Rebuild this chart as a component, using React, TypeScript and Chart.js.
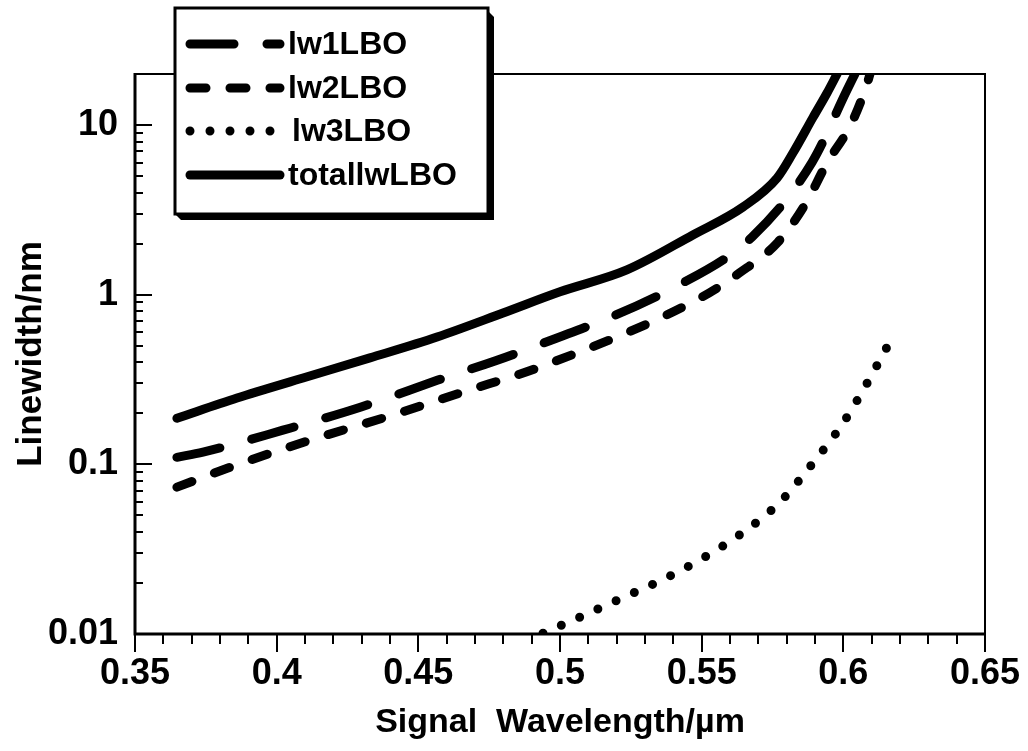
import { useEffect, useRef } from 'react';
import { Chart, registerables } from 'chart.js';

Chart.register(...registerables);

const FONT = '"Liberation Sans", Arial, Helvetica, sans-serif';

// Axis ticks
const wavelengthTicks = [0.35, 0.4, 0.45, 0.5, 0.55, 0.6, 0.65];
const linewidthTicks = [0.01, 0.1, 1, 10];

// lw1LBO
const lw1X = [0.3648, 0.374, 0.4022, 0.4298, 0.4569, 0.4848, 0.5406, 0.5678, 0.589, 0.6013, 0.6041];
const lw1Y = [0.11, 0.118, 0.159, 0.218, 0.314, 0.453, 1.11, 2.19, 6.05, 16.1, 20];

// lw2LBO
const lw2X = [0.3648, 0.3828, 0.4107, 0.4386, 0.4658, 0.4937, 0.5494, 0.5632, 0.5769, 0.5868, 0.5942, 0.6027, 0.6084, 0.6094];
const lw2Y = [0.0734, 0.0951, 0.137, 0.19, 0.267, 0.379, 0.955, 1.34, 2.04, 3.47, 5.97, 10.1, 17.5, 20];

// lw3LBO
const lw3X = [0.494, 0.5085, 0.5219, 0.5364, 0.5498, 0.5643, 0.5776, 0.5893, 0.5999, 0.608, 0.6154];
const lw3Y = [0.0101, 0.0129, 0.0163, 0.021, 0.0276, 0.0394, 0.0598, 0.102, 0.175, 0.293, 0.491];

// totallwLBO
const totalX = [0.3648, 0.386, 0.4093, 0.4329, 0.4566, 0.4799, 0.5, 0.5236, 0.5469, 0.5646, 0.5766, 0.5822, 0.5893, 0.5942, 0.5978];
const totalY = [0.187, 0.246, 0.323, 0.424, 0.563, 0.78, 1.04, 1.4, 2.25, 3.29, 4.87, 6.84, 11.1, 15.4, 20];

const pts = (xs: number[], ys: number[]) => xs.map((x, i) => ({ x, y: ys[i] }));

const frameAndTicks = {
  id: 'frameAndTicks',
  afterDatasetsDraw(chart: any) {
    const { ctx, chartArea: a, scales } = chart;
    const xs = scales.x;
    const ys = scales.y;
    ctx.save();
    ctx.strokeStyle = '#000';
    ctx.lineCap = 'butt';

    // top and right border
    ctx.lineWidth = 2;
    ctx.beginPath();
    ctx.moveTo(a.left, a.top);
    ctx.lineTo(a.right, a.top);
    ctx.lineTo(a.right, a.bottom);
    ctx.stroke();

    // left and bottom axes
    ctx.lineWidth = 3;
    ctx.beginPath();
    ctx.moveTo(a.left, a.top - 1);
    ctx.lineTo(a.left, a.bottom);
    ctx.lineTo(a.right + 1, a.bottom);
    ctx.stroke();

    // x ticks, pointing down
    ctx.lineWidth = 2;
    ctx.beginPath();
    for (let i = 0; i <= 30; i++) {
      const v = 0.35 + i * 0.01;
      const px = Math.round(xs.getPixelForValue(v));
      const len = i % 5 === 0 ? 18 : 10;
      ctx.moveTo(px, a.bottom);
      ctx.lineTo(px, a.bottom + len);
    }
    ctx.stroke();

    // y ticks, pointing into the plot
    ctx.beginPath();
    for (const d of linewidthTicks) {
      for (let m = 1; m <= 9; m++) {
        const v = d * m;
        if (v > ys.max + 1e-9 || v <= ys.min + 1e-12) continue;
        const py = Math.round(ys.getPixelForValue(v));
        const len = m === 1 ? 17 : 8;
        ctx.moveTo(a.left, py);
        ctx.lineTo(a.left + len, py);
      }
    }
    ctx.stroke();
    ctx.restore();
  },
};

const legendBox = {
  id: 'legendBox',
  afterDraw(chart: any) {
    const { ctx } = chart;
    const L = 175, T = 8, R = 488, B = 214;
    ctx.save();
    // drop shadow
    ctx.fillStyle = '#000';
    ctx.beginPath();
    ctx.moveTo(R, T + 3);
    ctx.lineTo(R + 6, T + 9);
    ctx.lineTo(R + 6, B + 6);
    ctx.lineTo(L + 6, B + 6);
    ctx.lineTo(L, B);
    ctx.closePath();
    ctx.fill();
    // box
    ctx.fillStyle = '#fff';
    ctx.fillRect(L, T, R - L, B - T);
    ctx.strokeStyle = '#000';
    ctx.lineWidth = 3;
    ctx.strokeRect(L, T, R - L, B - T);

    const rows = [44, 88, 131, 175];
    chart.data.datasets.forEach((ds: any, i: number) => {
      const y = rows[i];
      ctx.strokeStyle = '#000';
      ctx.lineWidth = ds.borderWidth;
      ctx.lineCap = 'round';
      ctx.setLineDash(ds.borderDash || []);
      ctx.beginPath();
      ctx.moveTo(190, y);
      ctx.lineTo(280, y);
      ctx.stroke();
      ctx.setLineDash([]);
      ctx.fillStyle = '#000';
      ctx.font = `bold 32px ${FONT}`;
      ctx.textBaseline = 'middle';
      ctx.textAlign = 'left';
      ctx.fillText(ds.label, i === 2 ? 292 : 288, y + 1);
    });
    ctx.restore();
  },
};

export default function App() {
  const ref = useRef<HTMLCanvasElement>(null);

  useEffect(() => {
    if (!ref.current) return;
    const common = {
      borderColor: '#000',
      borderWidth: 9,
      borderCapStyle: 'round' as const,
      borderJoinStyle: 'round' as const,
      pointRadius: 0,
      cubicInterpolationMode: 'monotone' as const,
      fill: false,
    };
    const chart = new Chart(ref.current, {
      type: 'line',
      data: {
        datasets: [
          { ...common, label: 'lw1LBO', data: pts(lw1X, lw1Y), borderDash: [44, 33] },
          { ...common, label: 'lw2LBO', data: pts(lw2X, lw2Y), borderDash: [16, 24] },
          { ...common, label: 'lw3LBO', data: pts(lw3X, lw3Y), borderDash: [0, 20] },
          { ...common, label: 'totallwLBO', data: pts(totalX, totalY), borderDash: [] },
        ],
      },
      options: {
        responsive: false,
        animation: false,
        events: [],
        layout: { padding: { top: 74, right: 43, left: 0, bottom: 0 } },
        plugins: { legend: { display: false }, tooltip: { enabled: false } },
        scales: {
          x: {
            type: 'linear',
            min: 0.35,
            max: 0.65,
            grid: { display: false, drawTicks: false },
            border: { display: false },
            afterBuildTicks: (s: any) => {
              s.ticks = wavelengthTicks.map((v) => ({ value: v }));
            },
            afterFit: (s: any) => {
              s.height = 117;
              s.paddingLeft = 0;
              s.paddingRight = 0;
            },
            ticks: {
              color: '#000',
              padding: 18,
              maxRotation: 0,
              autoSkip: false,
              font: { family: FONT, size: 36, weight: 'bold' },
              callback: (v: any) => String(+Number(v).toFixed(2)),
            },
            title: {
              display: true,
              text: 'Signal  Wavelength/\u00b5m',
              color: '#000',
              font: { family: FONT, size: 34, weight: 'bold' },
              padding: { top: 0, bottom: 8 },
            },
          },
          y: {
            type: 'logarithmic',
            min: 0.01,
            max: 20,
            grid: { display: false, drawTicks: false },
            border: { display: false },
            afterBuildTicks: (s: any) => {
              s.ticks = linewidthTicks.map((v) => ({ value: v }));
            },
            afterFit: (s: any) => {
              s.width = 135;
              s.paddingTop = 0;
              s.paddingBottom = 0;
            },
            ticks: {
              color: '#000',
              padding: 17,
              autoSkip: false,
              font: { family: FONT, size: 36, weight: 'bold' },
              callback: (v: any) => String(v),
            },
            title: {
              display: true,
              text: 'Linewidth/nm',
              color: '#000',
              font: { family: FONT, size: 35, weight: 'bold' },
              padding: { top: 10, bottom: 0 },
            },
          },
        },
      },
      plugins: [frameAndTicks, legendBox],
    });
    return () => chart.destroy();
  }, []);

  return (
    <div style={{ position: 'absolute', left: 0, top: 0, width: 1028, height: 751, background: '#fff' }}>
      <canvas ref={ref} width={1028} height={751} style={{ display: 'block' }} />
    </div>
  );
}
